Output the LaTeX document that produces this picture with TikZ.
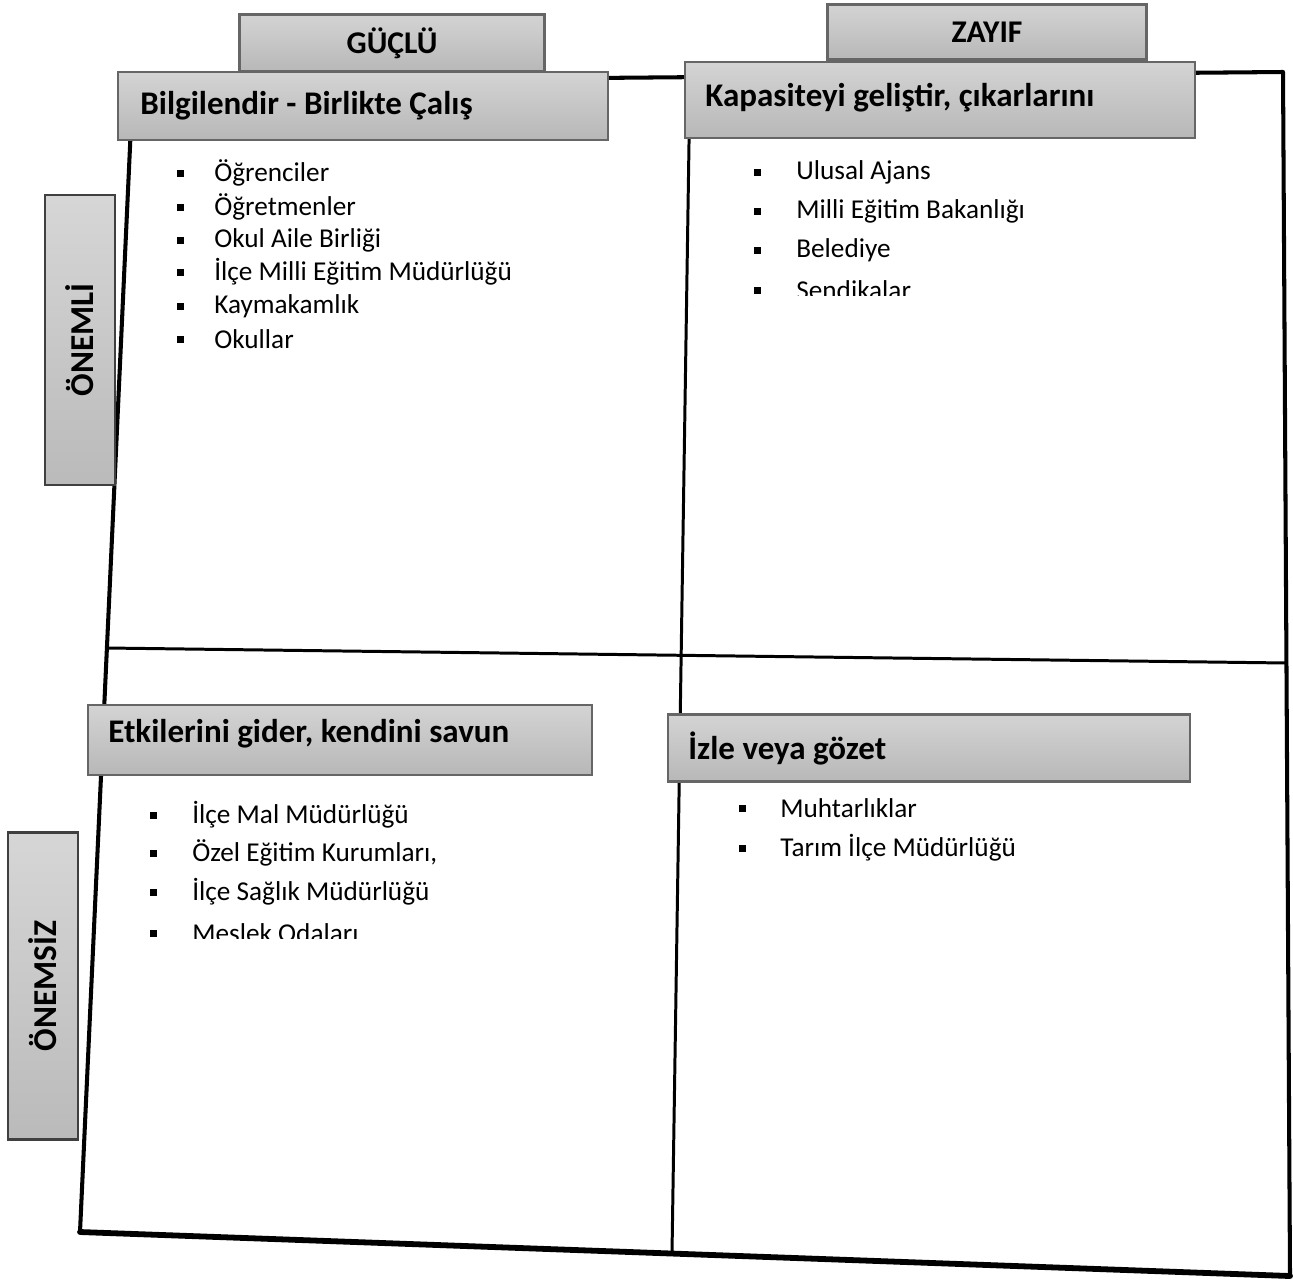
\documentclass[tikz,border=0pt]{standalone}
\usepackage{fontspec}
\setmainfont{Carlito}
\begin{document}
\begin{tikzpicture}[x=0.02cm,y=-0.02cm,
  hdr/.style={draw=black!60, top color=black!17, bottom color=black!28, line width=1.2pt, inner sep=0pt},
  hdrtext/.style={anchor=west, inner sep=0pt, font=\fontsize{18.8}{22}\selectfont\bfseries},
  side/.style={draw=black!75, top color=black!16, bottom color=black!27, line width=1.3pt, rotate=90, inner sep=0pt, font=\fontsize{19}{22}\selectfont\bfseries},
  item/.style={anchor=west, inner sep=0pt, font=\fontsize{15.5}{18}\selectfont},
  bul/.style={fill=black, inner sep=0pt, minimum size=0.14cm},
  frame/.style={line width=2.3pt, line cap=round, line join=round},
  inner/.style={line width=1.7pt}
]
\useasboundingbox (0,0) rectangle (1293,1281);
% frame corners
\coordinate (TL) at (133,82);
\coordinate (TR) at (1283,72);
\coordinate (BR) at (1290,1276);
\coordinate (BL) at (80,1232);
\coordinate (MT) at (690,78);
\coordinate (MB) at (672,1253);
\coordinate (ML) at (107,648);
\coordinate (MR) at (1287,663);
\draw[frame] (TL) -- (TR) -- (BR);
\draw[frame] (TL) -- (BL);
\draw[line width=3.3pt, line cap=round] (BL) -- (BR);
\draw[inner] (MT) -- (MB);
\draw[inner] (ML) -- (MR);
% column headers
\node[hdr, minimum width=6.1cm, minimum height=1.14cm, font=\fontsize{18}{21}\selectfont\bfseries] (guclu) at (392,43) {GÜÇLÜ};
\node[hdr, minimum width=6.38cm, minimum height=1.1cm, font=\fontsize{18}{21}\selectfont\bfseries] (zayif) at (987,32) {ZAYIF};
% quadrant headers
\node[hdr, minimum width=9.8cm, minimum height=1.36cm] (q1) at (363,106) {};
\node[hdrtext] (q1t) at (140,106) {Bilgilendir - Birlikte Çalış};
\node[hdr, minimum width=10.2cm, minimum height=1.52cm] (q2) at (940,100) {};
\node[hdrtext] (q2t) at (705,98) {Kapasiteyi geliştir, çıkarlarını};
\node[hdr, minimum width=10.08cm, minimum height=1.4cm] (q3) at (340,740) {};
\node[hdrtext] (q3t) at (108,734) {Etkilerini gider, kendini savun};
\node[hdr, minimum width=10.44cm, minimum height=1.34cm] (q4) at (929,748) {};
\node[hdrtext] (q4t) at (688,748) {İzle veya gözet};
% row labels
\node[side, minimum width=5.8cm, minimum height=1.4cm] (onemli) at (80,340) {ÖNEMLİ};
\node[side, minimum width=6.14cm, minimum height=1.4cm] (onemsiz) at (43,986) {ÖNEMSİZ};
% quadrant 1 items
\foreach \t/\y [count=\i] in {Öğrenciler/173, Öğretmenler/207, Okul Aile Birliği/240, İlçe Milli Eğitim Müdürlüğü/272, Kaymakamlık/306, Okullar/339}{
  \node[bul] (b1\i) at (180,\y) {};
  \node[item] (t1\i) at (214,\y) {\t};
}
% quadrant 2 items
\begin{scope}
\clip (700,140) rectangle (1270,295);
\foreach \t/\y [count=\i] in {Ulusal Ajans/172, Milli Eğitim Bakanlığı/211, Belediye/250, Sendikalar/290}{
  \node[bul] (b2\i) at (757,\y) {};
  \node[item] (t2\i) at (796,\y) {\t};
}
\end{scope}
% quadrant 3 items
\begin{scope}
\clip (110,780) rectangle (660,938);
\foreach \t/\y [count=\i] in {İlçe Mal Müdürlüğü/815, {Özel Eğitim Kurumları,}/853, İlçe Sağlık Müdürlüğü/892, Meslek Odaları/933}{
  \node[bul] (b3\i) at (153,\y) {};
  \node[item] (t3\i) at (192,\y) {\t};
}
\end{scope}
% quadrant 4 items
\foreach \t/\y [count=\i] in {Muhtarlıklar/808, Tarım İlçe Müdürlüğü/848}{
  \node[bul] (b4\i) at (742,\y) {};
  \node[item] (t4\i) at (780,\y) {\t};
}
\end{tikzpicture}
\end{document}
